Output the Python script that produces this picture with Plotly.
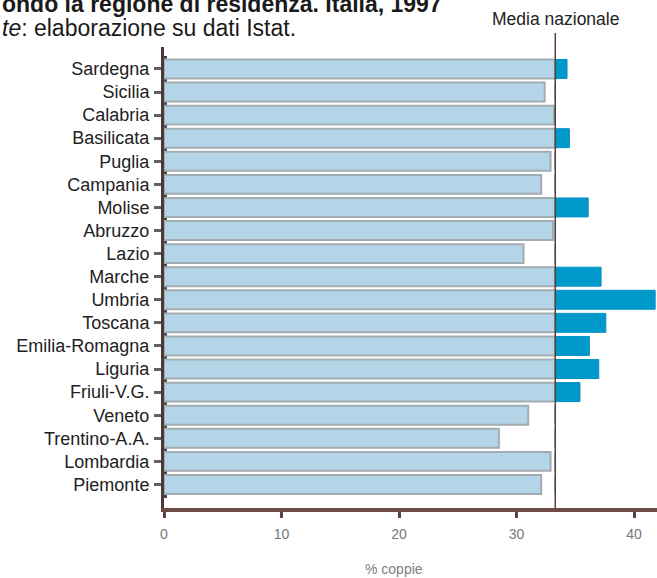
import plotly.graph_objects as go

# Regions listed bottom to top
regions = ["Piemonte", "Lombardia", "Trentino-A.A.", "Veneto", "Friuli-V.G.", "Liguria",
           "Emilia-Romagna", "Toscana", "Umbria", "Marche", "Lazio", "Abruzzo", "Molise",
           "Campania", "Puglia", "Basilicata", "Calabria", "Sicilia", "Sardegna"]
values = [32.1, 32.9, 28.5, 31.0, 35.4, 37.0,
          36.2, 37.6, 41.8, 37.2, 30.6, 33.1, 36.1,
          32.1, 32.9, 34.5, 33.2, 32.4, 34.3]
media_nazionale = 33.3
x_ticks = [0, 10, 20, 30, 40]

positions = list(range(len(regions)))
base_part = [min(v, media_nazionale) for v in values]
excess_part = [max(v - media_nazionale, 0) for v in values]

FONT = "Arial, 'Liberation Sans', Helvetica, sans-serif"

fig = go.Figure()
fig.add_trace(go.Bar(
    y=positions, x=base_part, orientation="h", width=0.82,
    marker=dict(color="#b4d5e7", line=dict(color="#a2adb1", width=2)),
    hoverinfo="skip", showlegend=False,
))
fig.add_trace(go.Bar(
    y=positions, x=excess_part, base=media_nazionale, orientation="h", width=0.82,
    marker=dict(color="#0099cc", line=dict(color="#0090c0", width=1)),
    hoverinfo="skip", showlegend=False,
))

L, R, T, B = 164, 0, 47, 70
W, H = 657, 578
pw, ph = W - L - R, H - T - B

def px_x(p):
    return (p - L) / pw

def px_y(p):
    return (H - B - p) / ph

fig.add_shape(type="line", xref="x", yref="paper",
              x0=media_nazionale, x1=media_nazionale, y0=0, y1=px_y(33),
              line=dict(color="#5b3f3c", width=1.5), layer="above")

fig.add_annotation(text="Media nazionale", xref="x", yref="paper",
                   x=media_nazionale, y=px_y(19), xanchor="center", yanchor="middle",
                   showarrow=False, font=dict(family=FONT, size=17.5, color="#222"))

fig.add_annotation(text="<b>ondo la regione di residenza. Italia, 1997</b>",
                   xref="paper", yref="paper", x=px_x(0), y=px_y(4),
                   xanchor="left", yanchor="middle", showarrow=False,
                   font=dict(family=FONT, size=23, color="#1a1a1a"))
fig.add_annotation(text="<i>te</i>: elaborazione su dati Istat.",
                   xref="paper", yref="paper", x=px_x(0), y=px_y(28),
                   xanchor="left", yanchor="middle", showarrow=False,
                   font=dict(family=FONT, size=23, color="#1a1a1a"))

fig.add_annotation(text="% coppie", xref="paper", yref="paper",
                   x=px_x(394), y=px_y(569), xanchor="center", yanchor="middle",
                   showarrow=False, font=dict(family=FONT, size=14, color="#808080"))

fig.update_layout(
    width=W, height=H,
    margin=dict(l=L, r=R, t=T, b=B, autoexpand=False),
    paper_bgcolor="white", plot_bgcolor="white",
    barmode="overlay",
    font=dict(family=FONT),
    xaxis=dict(range=[0, (W - L) / ((634 - 164) / 40)], tickvals=x_ticks,
               ticks="outside", ticklen=6, tickwidth=3, tickcolor="#5e4440",
               showline=True, linecolor="#6e4a45", linewidth=4,
               showgrid=False, zeroline=False,
               tickfont=dict(family=FONT, size=14, color="#777"),
               ticklabelstandoff=4, layer="above traces"),
    yaxis=dict(range=[-1.02, 18.95], tickvals=positions, ticktext=regions,
               ticks="outside", ticklen=7, tickwidth=2.5, tickcolor="#6a6060",
               showline=True, linecolor="#4a3a38", linewidth=3,
               showgrid=False, zeroline=False,
               tickfont=dict(family=FONT, size=18, color="#222"),
               ticklabelstandoff=1,
               minor=dict(tick0=0.5, dtick=1, ticks="inside", ticklen=3,
                          tickwidth=3, tickcolor="#444", showgrid=False),
               layer="below traces"),
)

fig.write_html("out.html", config={"displayModeBar": False},
               post_script="document.body.style.margin='0';document.body.style.padding='0';")
